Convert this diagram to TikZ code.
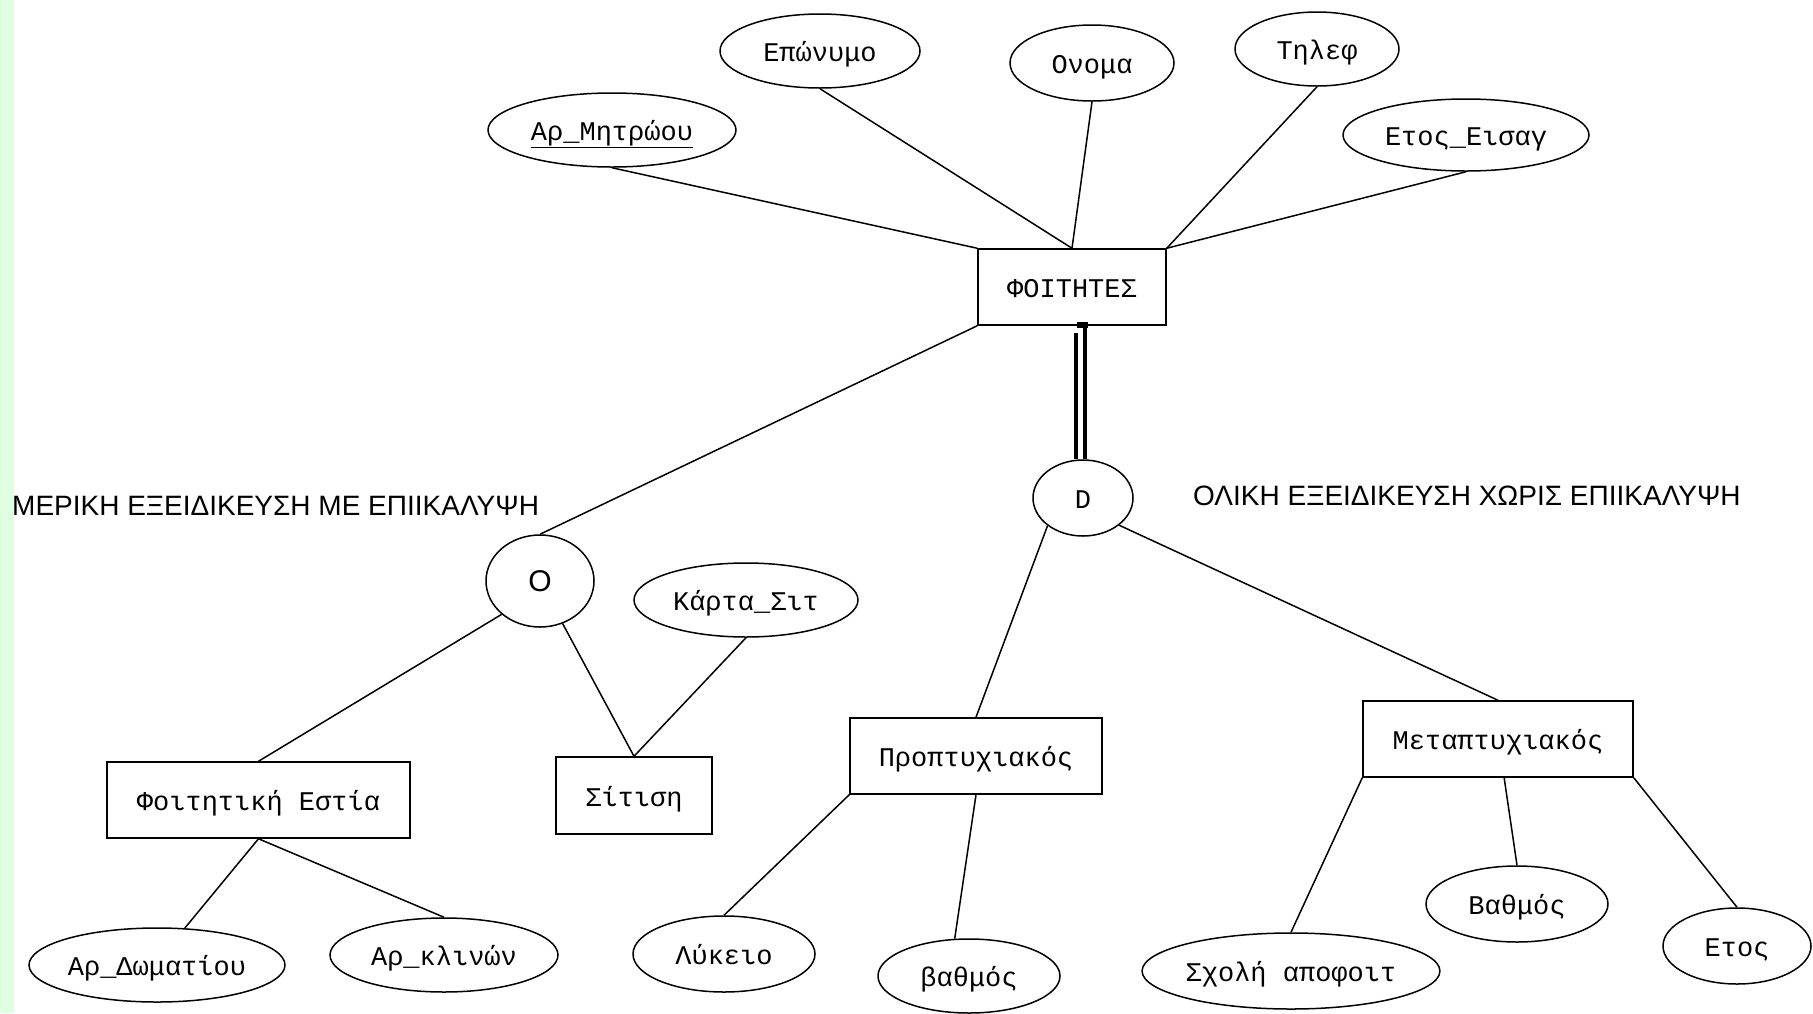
\documentclass[tikz,border=0pt]{standalone}
\usepackage{fontspec}
\usetikzlibrary{shapes.geometric,calc}
\newfontfamily\erfont{Liberation Mono}
\newfontfamily\capfont{Liberation Sans}

\tikzset{
  link/.style={line width=1.5pt, black},
  isa/.style={line width=3.4pt, black},
  label font/.style={font=\erfont\fontsize{27}{30}\selectfont,
    text height=24pt, text depth=3pt},
  entity/.style={draw, line width=1.5pt, rectangle, inner sep=0pt, label font},
  attr/.style={draw, line width=1.5pt, ellipse, inner sep=0pt, label font},
  spec/.style={draw, line width=1.5pt, ellipse, inner sep=0pt},
  caption/.style={anchor=base west, inner sep=0pt,
    font=\capfont\fontsize{28}{32}\selectfont}
}

\begin{document}
\begin{tikzpicture}[x=1pt, y=-1pt]
  \useasboundingbox (0,0) rectangle (1813,1013);
  \fill[white] (0,0) rectangle (1813,1013);
  \fill[green!12!white] (0,0) rectangle (14,1013);

  % main entity and its attributes
  \node[entity, minimum width=188pt, minimum height=76pt] (foit) at (1072,287) {ΦΟΙΤΗΤΕΣ};
  \node[attr, minimum width=248pt, minimum height=74pt] (arm) at (612,130) {\underline{Αρ\_Μητρώου}};
  \node[attr, minimum width=200pt, minimum height=74pt] (epo) at (820,51) {Επώνυμο};
  \node[attr, minimum width=164pt, minimum height=76pt] (ono) at (1092,63) {Ονομα};
  \node[attr, minimum width=164pt, minimum height=74pt] (til) at (1317,49) {Τηλεφ};
  \node[attr, minimum width=246pt, minimum height=72pt] (etos) at (1466,135) {Ετος\_Εισαγ};

  % specialisation circles
  \node[spec, minimum width=100pt, minimum height=76pt, label font] (D) at (1083,498) {D};
  \node[spec, minimum width=108pt, minimum height=92pt,
        font=\capfont\fontsize{30}{32}\selectfont] (O) at (540,581) {O};

  % captions
  \node[caption] (capL) at (12,515) {ΜΕΡΙΚΗ ΕΞΕΙΔΙΚΕΥΣΗ ΜΕ ΕΠΙΙΚΑΛΥΨΗ};
  \node[caption] (capR) at (1193,505) {ΟΛΙΚΗ ΕΞΕΙΔΙΚΕΥΣΗ ΧΩΡΙΣ ΕΠΙΙΚΑΛΥΨΗ};

  % overlapping subclasses
  \node[entity, minimum width=303pt, minimum height=76pt] (fe) at (258.5,800) {Φοιτητική Εστία};
  \node[entity, minimum width=156pt, minimum height=77pt] (sit) at (634,795.5) {Σίτιση};
  \node[attr, minimum width=224pt, minimum height=74pt] (karta) at (746,600) {Κάρτα\_Σιτ};
  \node[attr, minimum width=256pt, minimum height=74pt] (ad) at (157,965) {Αρ\_Δωματίου};
  \node[attr, minimum width=228pt, minimum height=74pt] (ak) at (444,955) {Αρ\_κλινών};

  % disjoint subclasses
  \node[entity, minimum width=252pt, minimum height=76pt] (prop) at (976,756) {Προπτυχιακός};
  \node[entity, minimum width=270pt, minimum height=76pt] (metap) at (1498,739) {Μεταπτυχιακός};
  \node[attr, minimum width=182pt, minimum height=76pt] (lyk) at (724,954) {Λύκειο};
  \node[attr, minimum width=182pt, minimum height=74pt] (vath1) at (969,976) {βαθμός};
  \node[attr, minimum width=294pt, minimum height=76pt] (sxoli) at (1291,971) {Σχολή αποφοιτ};
  \node[attr, minimum width=182pt, minimum height=76pt] (vath2) at (1517,904) {Βαθμός};
  \node[attr, minimum width=148pt, minimum height=76pt] (etos2) at (1737,946) {Ετος};

  % attribute links of the main entity
  \draw[link] (arm.south) -- (foit.north west);
  \draw[link] (epo.south) -- (foit.north);
  \draw[link] (ono.south) -- (foit.north);
  \draw[link] (til.south) -- (foit.north east);
  \draw[link] (etos.south) -- (foit.north east);

  % partial specialisation
  \draw[link] (foit.south west) -- (O.north);
  \draw[link] (O.-139) -- (fe.north);
  \draw[link] (O.-62) -- (sit.north);
  \draw[link] (karta.south) -- (sit.north);
  \draw[link] (fe.south) -- (ad.53);
  \draw[link] (fe.south) -- (ak.north);

  % total specialisation (double line)
  \draw[isa] ([xshift=13pt]foit.south) -- ([xshift=13pt]foit.south |- D.north);
  \draw[isa] ([xshift=4pt,yshift=-7pt]foit.south) -- ([xshift=4pt]foit.south |- D.north);
  \fill ([xshift=5pt,yshift=4pt]foit.south) rectangle ([xshift=16pt,yshift=-2pt]foit.south);
  \draw[link] (D.-142) -- (prop.north);
  \draw[link] (D.-37) -- (metap.north);

  % subclass attributes
  \draw[link] (prop.south west) -- (lyk.north);
  \draw[link] (prop.south) -- (vath1.111);
  \draw[link] (metap.south west) -- (sxoli.north);
  \draw[link] (metap.-81) -- (vath2.north);
  \draw[link] (metap.south east) -- (etos2.north);
\end{tikzpicture}
\end{document}
